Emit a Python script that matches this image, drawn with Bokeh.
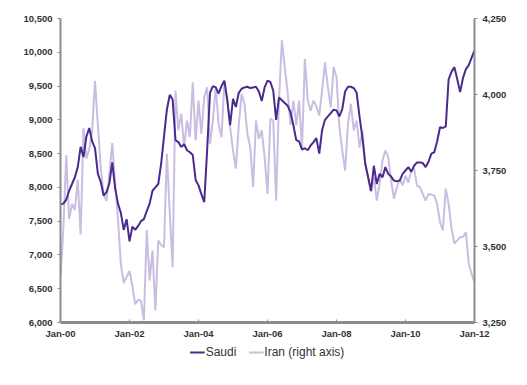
from bokeh.plotting import figure
from bokeh.layouts import column
from bokeh.models import (Range1d, LinearAxis, FixedTicker, NumeralTickFormatter,
                          Legend, LegendItem, ColumnDataSource)
from bokeh.embed import file_html
from bokeh.resources import INLINE

# Monthly data, Jan-2000 .. Jan-2012 (145 months)
saudi = [
    7750, 7760, 7820, 7950, 8050, 8150, 8300, 8600, 8450, 8750, 8880, 8680,
    8580, 8200, 8080, 7880, 7930, 8060, 8370, 7990, 7760, 7620, 7370, 7530,
    7200, 7420, 7370, 7430, 7500, 7530, 7650, 7760, 7950, 8000, 8050, 8350,
    8750, 9150, 9370, 9300, 8700, 8670, 8600, 8640, 8550, 8520, 8480, 8110,
    8030, 7900, 7780, 8550, 9400, 9500, 9480, 9390, 9500, 9580, 9300, 8920,
    9310, 9190, 9400, 9460, 9480, 9490, 9470, 9480, 9490, 9420, 9280, 9480,
    9580, 9560, 9430, 9000, 9330, 9290, 9250, 9210, 9110, 8920, 8700, 8680,
    8560, 8580, 8550, 8620, 8670, 8730, 8500, 8850, 9000, 9050, 9100, 9150,
    9140, 9050, 9160, 9420, 9490, 9490, 9470, 9400, 9050, 8740, 8350, 8150,
    7950, 8320, 8050, 8200, 8150, 8300, 8200, 8160, 8100, 8090, 8100, 8200,
    8250, 8300, 8230, 8320, 8370, 8370, 8360, 8300, 8380, 8500, 8520, 8680,
    8890, 8880, 8900, 9600, 9710, 9780, 9600, 9410, 9620, 9750, 9810, 9920,
    10030,
]
iran = [
    3400, 3560, 3800, 3590, 3640, 3620, 3720, 3540, 3890, 3790, 3820, 3880,
    4045, 3900, 3760, 3670, 3650, 3740, 3840, 3710, 3590, 3440, 3380, 3400,
    3420, 3370, 3310, 3325, 3320, 3257, 3553, 3388, 3487, 3290, 3520, 3505,
    3498, 3805, 3610, 3432, 4013, 3882, 3937, 3827, 3914, 3860, 4040, 3849,
    3980, 3870, 3991, 4024, 3838, 3914, 4024, 3903, 3859, 4040, 3980, 3893,
    3816, 3756, 3900, 4002, 3969, 3871, 3827, 3695, 3914, 3854, 3882, 3794,
    3673, 3920, 3914, 3651, 3980, 4178, 4090, 4008, 3900, 3980, 3898, 3980,
    3821, 4117, 3980, 3947, 3980, 3960, 3931, 4013, 4106, 4024, 3958, 4090,
    4057, 3893, 3816, 3750, 3903, 3969, 3882, 3914, 3825, 3882, 3772, 3728,
    3679, 3728, 3651, 3706, 3783, 3816, 3794, 3717, 3657, 3695, 3722, 3701,
    3733, 3710, 3750, 3756, 3700, 3695, 3673, 3651, 3673, 3670, 3668, 3640,
    3580, 3553, 3690, 3640, 3560, 3510, 3520, 3531, 3531, 3547, 3445, 3410,
    3383,
]
months = list(range(len(saudi)))
x_tick_pos = [0, 24, 48, 72, 96, 120, 144]
x_tick_labels = ["Jan-00", "Jan-02", "Jan-04", "Jan-06", "Jan-08", "Jan-10", "Jan-12"]
left_ticks = [6000, 6500, 7000, 7500, 8000, 8500, 9000, 9500, 10000, 10500]
right_ticks = [3250, 3500, 3750, 4000, 4250]
series_names = ["Saudi", "Iran (right axis)"]

SAUDI_C = "#4B2A8E"
IRAN_C = "#C9BEE2"
AXIS_C = "#8C8C8C"
TEXT_C = "#333333"

p = figure(frame_width=414, frame_height=304, output_backend="svg", toolbar_location=None,
           x_range=Range1d(0, 144), y_range=Range1d(6000, 10500),
           min_border_left=60, min_border_right=53, min_border_top=18,
           min_border_bottom=20, x_axis_location=None, y_axis_location=None)
p.outline_line_color = None
p.xgrid.visible = False
p.ygrid.visible = False
p.background_fill_color = "white"
p.border_fill_color = "white"
p.extra_y_ranges = {"iran": Range1d(3250, 4250)}

src = ColumnDataSource(dict(m=months, saudi=saudi, iran=iran))
p.line("m", "iran", source=src, y_range_name="iran", color=IRAN_C, line_width=2)
p.line("m", "saudi", source=src, color=SAUDI_C, line_width=2)

def style(ax):
    ax.axis_line_color = AXIS_C
    ax.axis_line_width = 2
    ax.major_tick_line_color = AXIS_C
    ax.major_tick_line_width = 1
    ax.minor_tick_line_color = None
    ax.major_label_text_font = "Liberation Sans"
    ax.major_label_text_font_style = "bold"
    ax.major_label_text_font_size = "9.5px"
    ax.major_label_text_color = TEXT_C

xa = LinearAxis(ticker=FixedTicker(ticks=x_tick_pos),
                major_label_overrides={t: l for t, l in zip(x_tick_pos, x_tick_labels)})
style(xa)
xa.axis_line_width = 3
xa.major_tick_in = 3
xa.major_tick_out = 0
xa.major_label_standoff = 5
p.add_layout(xa, "below")

ya = LinearAxis(ticker=FixedTicker(ticks=left_ticks), formatter=NumeralTickFormatter(format="0,0"))
style(ya)
ya.major_tick_in = 0
ya.major_tick_out = 3
ya.major_label_standoff = 5
p.add_layout(ya, "left")

yb = LinearAxis(y_range_name="iran", ticker=FixedTicker(ticks=right_ticks),
                formatter=NumeralTickFormatter(format="0,0"))
style(yb)
yb.major_tick_in = 0
yb.major_tick_out = 3
yb.major_label_standoff = 5
p.add_layout(yb, "right")

# Legend strip below the chart; its proxy lines use the same series but lie
# outside this strip's ranges, so only the legend itself is visible.
lg = figure(width=527, height=20, output_backend="svg", toolbar_location=None,
            x_range=Range1d(-10, -5), y_range=Range1d(0, 1), min_border=0,
            x_axis_location=None, y_axis_location=None)
lg.outline_line_color = None
lg.xgrid.visible = False
lg.ygrid.visible = False
r_s = lg.line("m", "saudi", source=src, color=SAUDI_C, line_width=2)
r_i = lg.line("m", "iran", source=src, color=IRAN_C, line_width=2)
legend = Legend(items=[LegendItem(label=series_names[0], renderers=[r_s]),
                       LegendItem(label=series_names[1], renderers=[r_i])],
                orientation="horizontal", location="center")
legend.border_line_color = None
legend.background_fill_alpha = 0
legend.label_text_font = "Liberation Sans"
legend.label_text_font_size = "12px"
legend.label_text_color = TEXT_C
legend.glyph_width = 15
legend.glyph_height = 14
legend.label_height = 14
legend.label_standoff = 1
legend.spacing = 12
legend.padding = 0
legend.margin = 0
lg.add_layout(legend, "center")

layout = column(p, lg, spacing=0)
open("out.html", "w").write(file_html(layout, INLINE))
